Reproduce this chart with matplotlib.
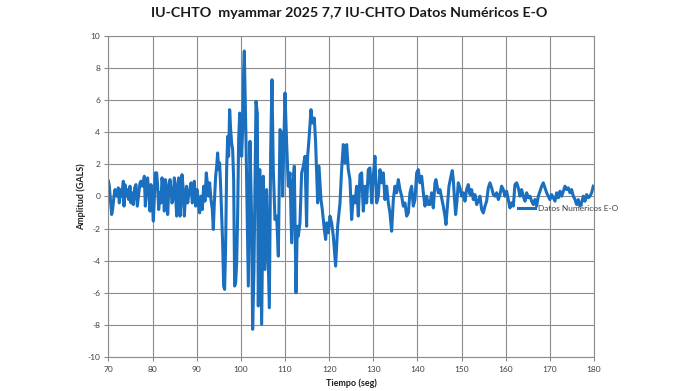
import matplotlib
matplotlib.use("Agg")
import matplotlib.pyplot as plt
import numpy as np

titulo = "IU-CHTO  myammar 2025 7,7 IU-CHTO Datos Numéricos E-O"
serie_nombre = "Datos Numéricos E-O"

# tiempo (seg) y amplitud (GALS)
tiempo = [
    70.00, 70.19, 70.49, 70.72, 70.94, 71.25, 71.47, 71.85, 72.23, 72.45,
    72.76, 73.06, 73.36, 73.51, 73.74, 73.97, 74.27, 74.57, 74.87, 75.10,
    75.32, 75.63, 75.93, 76.23, 76.53, 76.84, 77.14, 77.36, 77.67, 77.89,
    78.12, 78.35, 78.65, 78.87, 79.10, 79.40, 79.63, 79.86, 80.16, 80.38,
    80.61, 80.91, 81.14, 81.37, 81.67, 81.90, 82.12, 82.42, 82.65, 82.88,
    83.18, 83.41, 83.63, 83.94, 84.16, 84.39, 84.69, 84.92, 85.14, 85.45,
    85.67, 85.90, 86.20, 86.43, 86.65, 86.96, 87.18, 87.41, 87.71, 87.94,
    88.17, 88.47, 88.69, 88.99, 89.22, 89.44, 89.75, 90.05, 90.35, 90.65,
    90.96, 91.26, 91.56, 91.86, 92.16, 92.39, 92.62, 92.92, 93.22, 93.52,
    93.75, 93.98, 94.28, 94.51, 94.73, 94.96, 95.18, 95.41, 95.64, 95.86,
    96.09, 96.32, 96.54, 96.77, 97.00, 97.22, 97.45, 97.68, 97.90, 98.13,
    98.36, 98.58, 98.81, 99.04, 99.26, 99.49, 99.72, 99.94, 100.17, 100.40,
    100.62, 100.77, 101.15, 101.45, 101.68, 102.06, 102.43, 102.66, 102.96, 103.42,
    103.72, 103.94, 104.32, 104.70, 105.08, 105.45, 105.83, 106.44, 106.74, 107.04,
    107.34, 107.72, 108.10, 108.48, 108.85, 109.23, 109.46, 109.99, 110.36, 110.74,
    111.12, 111.50, 111.87, 112.10, 112.48, 112.78, 113.01, 113.38, 113.76, 114.14,
    114.52, 114.89, 115.12, 115.42, 115.88, 116.18, 116.63, 116.93, 117.39, 117.69,
    118.14, 118.44, 118.90, 119.20, 119.43, 119.80, 120.18, 120.56, 120.94, 121.46,
    121.92, 122.45, 122.82, 123.20, 123.58, 123.96, 124.33, 124.71, 125.09, 125.47,
    125.85, 126.22, 126.60, 126.98, 127.35, 127.73, 128.11, 128.49, 128.86, 129.24,
    129.62, 130.00, 130.37, 130.75, 131.13, 131.51, 131.89, 132.26, 132.64, 133.02,
    133.40, 133.77, 134.15, 134.53, 134.91, 135.28, 135.66, 136.04, 136.42, 136.79,
    137.17, 137.55, 137.93, 138.30, 138.68, 139.06, 139.44, 139.82, 140.19, 140.57,
    140.95, 141.33, 141.70, 142.08, 142.46, 142.83, 143.21, 143.59, 143.97, 144.19,
    144.72, 145.10, 145.48, 145.85, 146.23, 146.46, 146.84, 147.14, 147.59, 147.89,
    148.12, 148.35, 148.65, 148.95, 149.25, 149.63, 150.01, 150.39, 150.76, 151.14,
    151.52, 151.90, 152.27, 152.65, 153.03, 153.41, 153.78, 154.16, 154.54, 154.92,
    155.30, 155.67, 156.05, 156.43, 156.81, 157.18, 157.56, 157.94, 158.32, 158.69,
    159.07, 159.45, 159.83, 160.20, 160.58, 160.96, 161.34, 161.72, 162.09, 162.47,
    162.85, 163.23, 163.60, 163.98, 164.36, 164.74, 165.11, 165.49, 165.87, 166.25,
    166.62, 167.00, 167.38, 167.76, 168.14, 168.51, 168.89, 169.27, 169.65, 170.02,
    170.40, 170.78, 171.16, 171.53, 171.91, 172.29, 172.67, 173.04, 173.42, 173.80,
    174.18, 174.56, 174.93, 175.31, 175.69, 176.07, 176.44, 176.82, 177.20, 177.58,
    177.95, 178.33, 178.71, 179.09, 179.46, 179.84,
]
amplitud = [
    0.95, 0.64, -0.40, -1.12, -0.81, 0.02, 0.43, 0.02, 0.54, -0.40,
    0.43, 0.02, 0.95, -0.60, 0.74, 0.02, 0.43, -0.19, 0.64, -0.40,
    0.23, -0.50, 0.54, 0.74, -0.60, 0.12, 0.85, 0.95, 0.64, 0.85,
    1.26, -0.60, 0.85, 1.16, 0.23, -0.91, 0.74, 0.02, -1.53, -0.19,
    1.47, 1.47, 0.64, -0.81, 0.23, -0.40, 1.16, 0.54, -0.91, 1.05,
    0.64, -1.12, 0.23, 1.05, 0.43, -0.40, -0.09, 1.16, 0.43, -1.22,
    0.64, 1.16, -1.22, -0.40, 1.36, 0.43, -1.22, -0.19, 0.64, -0.40,
    0.12, 0.43, 0.85, -0.40, 0.23, 0.95, -0.60, 0.43, -0.19, -1.02,
    0.02, -0.81, 0.64, -0.29, 1.47, 0.85, 0.02, 0.85, -0.19, -0.81,
    -2.05, -0.40, 1.26, 1.88, 2.71, 1.67, 2.09, 0.64, -1.22, -2.88,
    -5.57, -5.78, -3.09, 1.67, 3.74, 2.50, 5.40, 4.16, 3.33, 2.92,
    1.05, -5.57, -5.36, -4.12, -1.22, 3.54, 5.19, 3.74, 2.50, 4.16,
    7.89, 9.05, 3.54, -1.64, -5.57, 3.43, -1.43, -8.26, -4.54, 5.92,
    5.19, -6.81, 1.67, -7.95, 1.26, -4.54, 0.43, -6.92, 2.71, 7.26,
    1.67, -1.43, -1.22, -3.71, 4.16, 3.95, 0.02, 6.44, 3.33, 0.64,
    1.47, -2.88, 1.05, 1.88, -5.99, -1.85, -2.47, -1.64, 1.47, 1.88,
    2.50, -1.85, 2.50, 3.54, 5.40, 4.57, 4.88, 3.33, -0.40, 1.88,
    -0.19, -0.81, -2.05, -2.67, -1.64, -2.26, -1.22, -1.64, -2.47, -4.33,
    -1.85, -0.40, 1.67, 3.23, 2.09, 3.23, 1.67, 1.05, -1.43, 0.02,
    -0.40, 0.64, -1.22, 1.36, 1.47, -0.91, 0.64, -0.40, 1.67, 1.78,
    -0.40, 1.26, 2.50, -0.40, 0.02, 1.67, 0.85, 1.47, -0.19, 0.64,
    -0.40, -1.02, -2.16, -0.19, 0.64, 0.23, 1.05, 0.43, 0.02, -0.60,
    -0.40, -1.22, -1.02, 0.23, 0.64, -0.60, -0.19, 1.47, 1.67, 0.85,
    1.26, 0.23, -0.60, 0.02, -0.50, -0.50, 0.23, -0.71, 0.85, 1.05,
    0.23, 0.43, -0.08, -0.60, -1.22, -1.74, -0.39, 0.64, 1.26, 1.61,
    1.05, 0.02, -1.12, -0.29, 0.85, 0.54, 0.02, 0.23, -0.29, 0.43,
    0.74, 0.12, 0.43, -0.19, 0.12, -0.50, -0.29, 0.02, -0.81, -1.02,
    -0.60, -0.29, 0.54, 0.85, 0.54, 0.12, 0.02, 0.23, -0.19, 0.12,
    0.64, 0.43, 0.02, 0.33, -0.19, -0.71, -0.39, -0.60, 0.74, 0.85,
    0.54, 0.02, 0.43, 0.02, -0.29, 0.23, -0.08, 0.02, -0.29, -0.50,
    -0.19, -0.60, 0.02, 0.33, 0.64, 0.85, 0.54, 0.23, 0.02, -0.19,
    0.12, -0.08, -0.29, 0.23, -0.08, 0.33, 0.02, 0.33, 0.64, 0.43,
    0.54, 0.23, 0.43, 0.02, -0.19, -0.50, -0.19, -0.60, -0.39, 0.02,
    -0.29, 0.12, -0.08, 0.02, 0.23, 0.64,
]

x_ticks = np.arange(70, 181, 10)
y_ticks = np.arange(-10, 11, 2)

plt.rcParams['font.family'] = ['Lato', 'DejaVu Sans']
plt.rcParams['axes.unicode_minus'] = False
gris = '#8c8c8c'
texto = '#404040'

fig = plt.figure(figsize=(6.99, 3.91), dpi=100)
ax = fig.add_axes([0.1552, 0.0862, 0.6946, 0.8225])

ax.plot(tiempo, amplitud, color='#1a6fbf', lw=2.2, label=serie_nombre)

ax.set_xlim(70, 180)
ax.set_ylim(-10, 10)
ax.set_xticks(x_ticks)
ax.set_yticks(y_ticks)
ax.grid(True, color=gris, lw=0.8)
ax.set_axisbelow(True)
for s in ax.spines.values():
    s.set_color(gris)
    s.set_linewidth(0.8)
ax.tick_params(axis='both', length=3, width=0.8, color=gris,
               labelsize=6, labelcolor=texto, pad=3)

ax.set_xlabel("Tiempo (seg)", fontsize=6.5, fontweight='bold', color='#202020', labelpad=4)
ax.set_ylabel("Amplitud (GALS)", fontsize=6.5, fontweight='bold', color='#202020', labelpad=1)
fig.suptitle(titulo, x=0.5, y=0.982, fontsize=10.3, fontweight='bold', color='#1a1a1a')

ax.legend(loc='center left', bbox_to_anchor=(0.741, 0.468), bbox_transform=fig.transFigure,
          frameon=False, fontsize=6, handlelength=2.0, handletextpad=0.35,
          borderpad=0, borderaxespad=0, labelcolor=texto)

fig.savefig("out.png", dpi=100)
